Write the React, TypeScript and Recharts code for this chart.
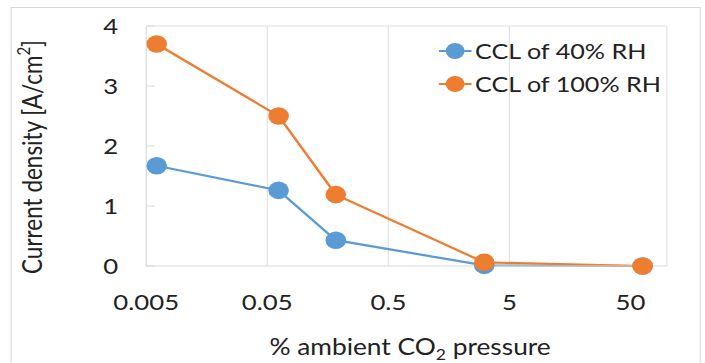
import React from 'react'
import { LineChart, Line, XAxis, YAxis, ReferenceLine, Label } from 'recharts'

// % ambient CO2 pressure (log axis) and current density in A/cm2
const co2Pressure = [0.0061, 0.062, 0.184, 3.1, 63]
const ccl40RH = [1.67, 1.26, 0.43, 0.01, 0]
const ccl100RH = [3.7, 2.5, 1.19, 0.06, 0]

const xTicks = [0.005, 0.05, 0.5, 5, 50]
const xGrid = [0.05, 0.5, 5]
const yTicks = [0, 1, 2, 3, 4]

const series = [
    { key: 'rh40', name: 'CCL of 40% RH', color: '#5B9BD5' },
    { key: 'rh100', name: 'CCL of 100% RH', color: '#ED7D31' },
]

const data = co2Pressure.map((x, i) => ({ x, rh40: ccl40RH[i], rh100: ccl100RH[i] }))

const FONT = 'Lato, "Open Sans", sans-serif'
const TEXT = '#222'
const GRID = '#e2e2e2'
// the reference is stretched sideways, so the chart is drawn narrow and scaled
const STRETCH = 1.17

const YTitle = ({ viewBox }: any) => {
    const cx = viewBox.x + 27
    const cy = viewBox.y + viewBox.height / 2 + 11
    return (
        <text x={cx} y={cy} transform={`rotate(-90 ${cx} ${cy})`} textAnchor="middle"
            dominantBaseline="central" fontFamily={FONT} fontSize={22.5} fill={TEXT}>
            Current density [A/cm<tspan dy={-8} fontSize={15}>2</tspan><tspan dy={8}>]</tspan>
        </text>
    )
}

const XTitle = ({ viewBox }: any) => {
    const cx = viewBox.x + viewBox.width / 2 + 3
    const cy = viewBox.y + 89
    return (
        <text x={cx} y={cy} textAnchor="middle" fontFamily={FONT} fontSize={22.5} fill={TEXT}>
            % ambient CO<tspan dy={5} fontSize={15}>2</tspan><tspan dy={-5}> pressure</tspan>
        </text>
    )
}

export default function App() {
    const tickStyle = { fontFamily: FONT, fontSize: 22, fill: TEXT }

    return (
        <div style={{ position: 'absolute', left: 0, top: 0, width: 705, height: 363, overflow: 'hidden', background: '#fff' }}>
            <style>{'body{margin:0;overflow:hidden}'}</style>
            <div style={{
                position: 'absolute', left: 0, top: 0, width: 603, height: 363,
                transform: `scaleX(${STRETCH})`, transformOrigin: '0 0',
            }}>
                <div style={{
                    position: 'absolute', left: 8.5, top: 7, width: 590, height: 400,
                    border: '1px solid #d9d9d9', boxSizing: 'border-box',
                }} />
                <LineChart width={603} height={363} data={data}
                    margin={{ top: 26, right: 33, left: 0, bottom: 0 }}
                    style={{ position: 'absolute', left: 0, top: 0 }}
                >
                    {xGrid.map(v => (
                        <ReferenceLine key={v} x={v} stroke={GRID} strokeWidth={1} />
                    ))}
                    <ReferenceLine x={100} stroke={GRID} strokeWidth={1} />
                    <ReferenceLine y={4} stroke={GRID} strokeWidth={1} />
                    <XAxis dataKey="x" type="number" scale="log" domain={[0.005, 100]} allowDataOverflow
                        ticks={xTicks} interval={0} height={97} tickLine={false}
                        axisLine={{ stroke: '#d9d9d9' }} tick={tickStyle} tickMargin={22}
                        tickFormatter={(v: number) => String(v)}>
                        <Label content={XTitle} />
                    </XAxis>
                    <YAxis type="number" domain={[0, 4]} ticks={yTicks} interval={0} width={125}
                        axisLine={{ stroke: '#d9d9d9' }} tickLine={{ stroke: '#d9d9d9' }} tickSize={-7}
                        tickMargin={31} tick={tickStyle}>
                        <Label content={YTitle} />
                    </YAxis>
                    {series.map(s => (
                        <Line key={s.key} dataKey={s.key} name={s.name} type="linear"
                            stroke={s.color} strokeWidth={2.2}
                            dot={{ r: 8.8, fill: s.color, stroke: s.color, strokeWidth: 0 }}
                            activeDot={false} isAnimationActive={false} />
                    ))}
                </LineChart>
                <div style={{ position: 'absolute', left: 375, top: 39, fontFamily: FONT, fontSize: 21.5, color: TEXT }}>
                    {series.map(s => (
                        <div key={s.key} style={{ display: 'flex', alignItems: 'center', height: 24, marginBottom: 9.3 }}>
                            <svg width={31} height={24} style={{ display: 'block' }}>
                                <line x1={0} y1={12} x2={28} y2={12} stroke={s.color} strokeWidth={2.2} />
                                <circle cx={14} cy={12} r={8} fill={s.color} />
                            </svg>
                            <span style={{ lineHeight: '24px', whiteSpace: 'nowrap' }}>{s.name}</span>
                        </div>
                    ))}
                </div>
            </div>
        </div>
    )
}
